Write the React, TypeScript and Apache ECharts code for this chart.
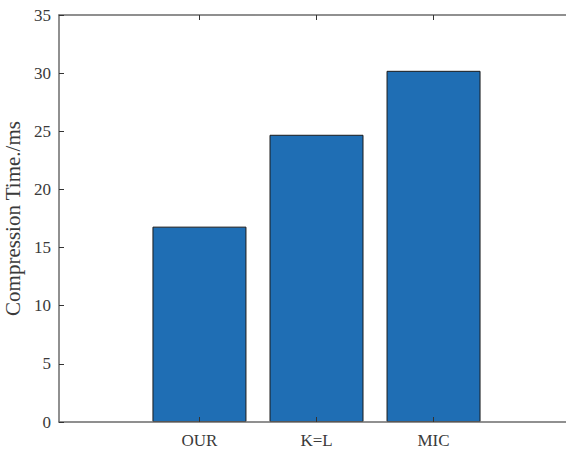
import React, { useEffect, useRef } from "react";
import * as echarts from "echarts";

const categories = ["OUR", "K=L", "MIC"];
const positions = [1, 2, 3];
const compressionTime = [16.8, 24.7, 30.2];

const axisColor = "#6b6b6b";
const textColor = "#3a3a3a";
const font = "'Liberation Serif', 'Times New Roman', serif";

export default function App() {
  const ref = useRef<HTMLDivElement>(null);
  useEffect(() => {
    if (!ref.current) return;
    const chart = echarts.init(ref.current, undefined, { renderer: "svg" });
    const data = positions.map((p, i) => [p, compressionTime[i]]);
    chart.setOption({
      animation: false,
      backgroundColor: "#ffffff",
      grid: { left: 59, top: 15, bottom: 29, width: 515, outerBoundsMode: "none", containLabel: false },
      xAxis: [
        {
          type: "value",
          min: -0.2,
          max: 4.2,
          position: "bottom",
          z: 5,
          axisLine: { show: true, onZero: false, lineStyle: { color: axisColor, width: 1.5 } },
          axisTick: {
            show: true,
            inside: true,
            length: 5,
            customValues: positions,
            lineStyle: { color: "#333", width: 1 },
          },
          axisLabel: {
            show: true,
            customValues: positions,
            formatter: (v: number) => categories[Math.round(v) - 1] ?? "",
            color: textColor,
            fontFamily: font,
            fontSize: 17,
            margin: 10,
          },
          splitLine: { show: false },
        },
        {
          type: "value",
          min: -0.2,
          max: 4.2,
          position: "top",
          z: 5,
          axisLine: { show: true, onZero: false, lineStyle: { color: axisColor, width: 1.5 } },
          axisTick: {
            show: true,
            inside: true,
            length: 5,
            customValues: positions,
            lineStyle: { color: "#333", width: 1 },
          },
          axisLabel: { show: false },
          splitLine: { show: false },
        },
      ],
      yAxis: {
        type: "value",
        min: 0,
        max: 35,
        interval: 5,
        z: 5,
        name: "Compression Time./ms",
        nameLocation: "middle",
        nameGap: 31,
        nameTextStyle: { color: textColor, fontFamily: font, fontSize: 21 },
        axisLine: { show: true, onZero: false, lineStyle: { color: axisColor, width: 1.5 } },
        axisTick: { show: true, inside: true, length: 5, lineStyle: { color: "#333", width: 1 } },
        axisLabel: { color: textColor, fontFamily: font, fontSize: 17, margin: 8 },
        splitLine: { show: false },
      },
      series: [
        {
          type: "bar",
          data,
          barWidth: 94,
          itemStyle: { color: "#1f6eb4", borderColor: "#1b1b1b", borderWidth: 1 },
        },
      ],
    });
    return () => chart.dispose();
  }, []);
  return (
    <div
      ref={ref}
      style={{ position: "fixed", left: 0, top: 0, width: 566, height: 451 }}
    />
  );
}
